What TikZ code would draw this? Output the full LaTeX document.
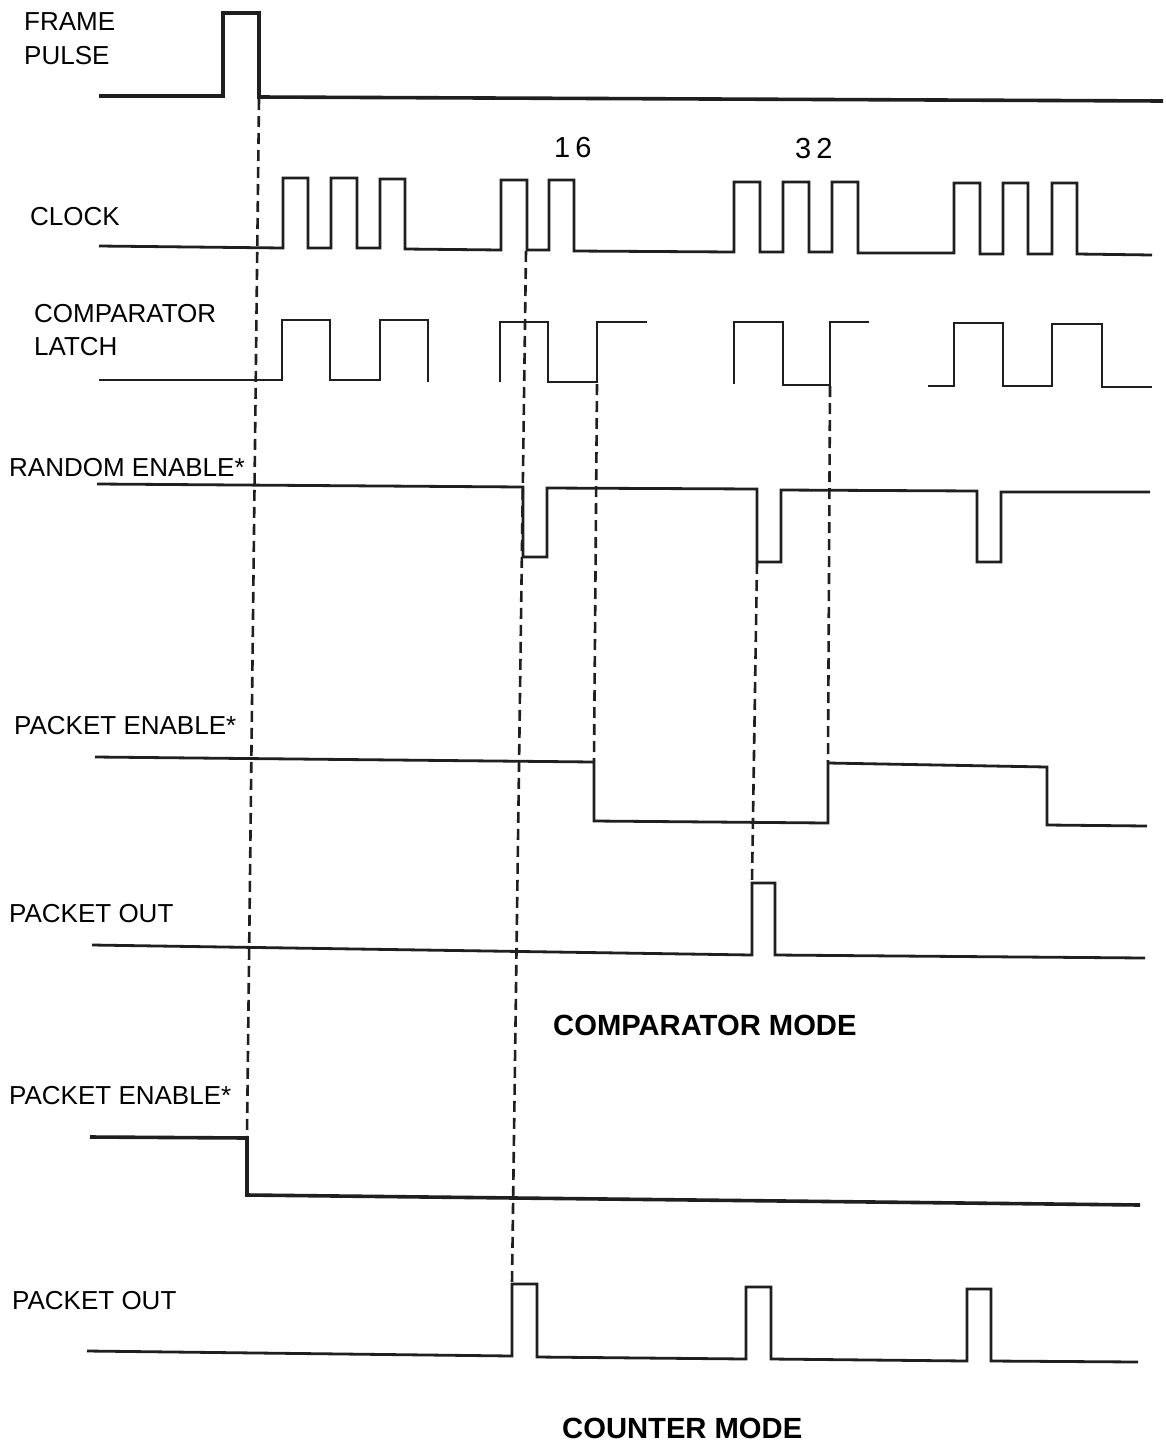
\documentclass[tikz,border=0pt]{standalone}
\usepackage{fontspec}
\setmainfont{Liberation Sans}
\begin{document}
\begin{tikzpicture}[x=1pt,y=-1pt,
  wave/.style={line width=2.8pt, line join=miter, line cap=butt, black!88},
  heavywave/.style={line width=3.6pt, line join=miter, black!88},
  guide/.style={line width=2.6pt, dash pattern=on 11pt off 6pt, black!88},
  lbl/.style={anchor=west, inner sep=0pt, text depth=0pt, font=\fontsize{26}{26}\selectfont},
  num/.style={anchor=west, inner sep=0pt, text depth=0pt, font=\fontsize{29}{29}\selectfont},
  mode/.style={anchor=west, inner sep=0pt, text depth=0pt, font=\fontsize{29.2}{29.2}\selectfont\bfseries}]
\useasboundingbox[fill=white] (0,0) rectangle (1166,1446);

% ---------- labels ----------
\node[lbl] (lframe) at (24,22) {FRAME};
\node[lbl] (lpulse) at (24,55) {PULSE};
\node[lbl] (lclock) at (30,216) {CLOCK};
\node[lbl] (lcomp) at (34,313) {COMPARATOR};
\node[lbl] (llatch) at (34,346) {LATCH};
\node[lbl] (lrand) at (9,467) {RANDOM ENABLE*};
\node[lbl] (lpe1) at (14,725) {PACKET ENABLE*};
\node[lbl] (lpo1) at (9,913) {PACKET OUT};
\node[lbl] (lpe2) at (9,1095) {PACKET ENABLE*};
\node[lbl] (lpo2) at (12,1300) {PACKET OUT};
\node[num] (n16) at (554,147) {1\hspace{5pt}6};
\node[num] (n32) at (795,148) {3\hspace{5pt}2};
\node[mode] (mcomp) at (553,1025) {COMPARATOR MODE};
\node[mode] (mcount) at (562,1428) {COUNTER MODE};

% ---------- frame pulse ----------
\draw[heavywave] (99,96) -- (223,96) -- (223,13) -- (259,13) -- (259,97) -- (1163,101);

% ---------- clock ----------
\draw[wave] (99,246) -- (283,248) -- (283,178) -- (308,178) -- (308,248) -- (331,248)
  -- (331,178) -- (357,178) -- (357,248) -- (380,248) -- (380,179) -- (405,179) -- (405,249)
  -- (501,250) -- (501,180) -- (527,180) -- (527,250) -- (549,250) -- (549,180) -- (574,180)
  -- (574,251) -- (734,252) -- (734,182) -- (760,182) -- (760,252) -- (783,252) -- (783,182)
  -- (809,182) -- (809,252) -- (832,252) -- (832,182) -- (858,182) -- (858,253) -- (954,253)
  -- (954,183) -- (980,183) -- (980,254) -- (1003,254) -- (1003,183) -- (1028,183) -- (1028,254)
  -- (1052,254) -- (1052,183) -- (1077,183) -- (1077,254) -- (1152,255);

% ---------- comparator latch ----------
\draw[wave] (99,380) -- (282,380) -- (282,320) -- (330,320) -- (330,380) -- (380,380)
  -- (380,320) -- (428,320) -- (428,382);
\draw[wave] (500,382) -- (500,322) -- (548,322) -- (548,382) -- (597,382) -- (597,322) -- (647,322);
\draw[wave] (734,384) -- (734,322) -- (783,322) -- (783,385) -- (830,385) -- (830,322) -- (869,322);
\draw[wave] (928,386) -- (954,386) -- (954,323) -- (1003,323) -- (1003,386) -- (1052,386)
  -- (1052,324) -- (1102,324) -- (1102,387) -- (1152,387);

% ---------- random enable* ----------
\draw[wave] (97,484) -- (523,487) -- (523,557) -- (547,557) -- (547,488) -- (757,489)
  -- (757,562) -- (781,562) -- (781,490) -- (977,491) -- (977,562) -- (1001,562) -- (1001,492)
  -- (1150,492);

% ---------- packet enable* (comparator) ----------
\draw[wave] (95,757) -- (594,762) -- (594,821) -- (828,823) -- (828,763) -- (1047,767)
  -- (1047,825) -- (1147,826);

% ---------- packet out (comparator) ----------
\draw[wave] (92,945) -- (752,955) -- (752,883) -- (775,883) -- (775,955) -- (1145,958);

% ---------- packet enable* (counter) ----------
\draw[heavywave] (90,1137) -- (247,1138) -- (247,1195) -- (1140,1205);

% ---------- packet out (counter) ----------
\draw[wave] (87,1351) -- (512,1356) -- (512,1284) -- (537,1284) -- (537,1357) -- (746,1359)
  -- (746,1287) -- (771,1287) -- (771,1359) -- (967,1361) -- (967,1289) -- (991,1289)
  -- (991,1361) -- (1138,1362);

% ---------- dashed timing guides ----------
\coordinate (d1a) at (259,99);  \coordinate (d1b) at (247,1136);
\coordinate (d2a) at (526,251); \coordinate (d2b) at (512,1283);
\coordinate (d3a) at (597,384); \coordinate (d3b) at (594,761);
\coordinate (d4a) at (757,563); \coordinate (d4b) at (752,882);
\coordinate (d5a) at (830,386); \coordinate (d5b) at (828,762);
\draw[guide] (d1a) -- (d1b);
\draw[guide] (d2a) -- (d2b);
\draw[guide] (d3a) -- (d3b);
\draw[guide] (d4a) -- (d4b);
\draw[guide] (d5a) -- (d5b);
\end{tikzpicture}
\end{document}
